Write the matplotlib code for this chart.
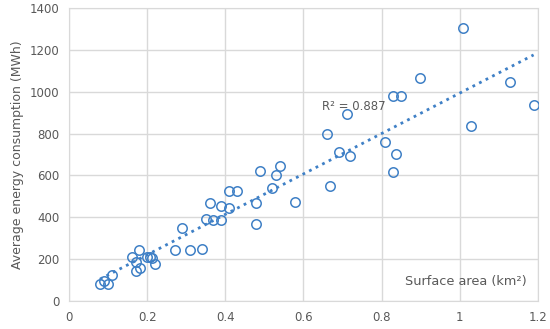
import matplotlib
matplotlib.use("Agg")
import matplotlib.pyplot as plt
import numpy as np

area = [0.079, 0.09, 0.10, 0.111, 0.16, 0.171, 0.179, 0.171, 0.182, 0.20, 0.207, 0.212,
        0.221, 0.27, 0.29, 0.31, 0.34, 0.35, 0.369, 0.36, 0.39, 0.39, 0.409, 0.409, 0.43,
        0.479, 0.479, 0.49, 0.519, 0.53, 0.539, 0.579, 0.669, 0.69, 0.719, 0.829, 0.838,
        1.008, 0.899, 0.829, 0.849, 1.128, 1.189, 1.029, 0.711, 0.659, 0.809]
energy = [80, 95, 81, 123, 209, 186, 243, 142, 159, 212, 212, 207,
          175, 244, 350, 245, 248, 390, 388, 469, 455, 387, 524, 443, 527,
          468, 368, 619, 541, 600, 646, 474, 548, 713, 692, 616, 702,
          1304, 1068, 982, 982, 1049, 939, 837, 896, 796, 761]
r2_label = "R² = 0.887"

blue = "#3f80c6"
grey_txt = "#595959"

fig = plt.figure(figsize=(5.5, 3.29), dpi=100)
ax = fig.add_axes([0.1255, 0.085, 0.8525, 0.8905])

ax.plot(area, energy, "o", mfc="none", mec=blue, mew=1.1, ms=6.8, zorder=3)

# linear trendline
k, b = np.polyfit(area, energy, 1)
xs = np.array([min(area), max(area)])
ax.plot(xs, k * xs + b, ":", color=blue, lw=2.0, zorder=2)

ax.set_xlim(0, 1.2)
ax.set_ylim(0, 1400)
ax.set_xticks(np.arange(0, 1.21, 0.2))
ax.set_xticklabels(["0", "0.2", "0.4", "0.6", "0.8", "1", "1.2"])
ax.set_yticks(np.arange(0, 1401, 200))
ax.grid(True, color="#d9d9d9", lw=1.0)
ax.set_axisbelow(True)
for s in ax.spines.values():
    s.set_color("#d9d9d9")
ax.tick_params(length=0, colors=grey_txt, labelsize=8.5, pad=7)

ax.set_ylabel("Average energy consumption (MWh)", color=grey_txt, fontsize=9)
ax.text(0.977, 0.068, "Surface area (km²)", transform=ax.transAxes, ha="right",
        va="center", color=grey_txt, fontsize=9.3)
ax.text(0.647, 931, r2_label, ha="left", va="center", color=grey_txt, fontsize=8.5)

fig.savefig("out.png", dpi=100)
